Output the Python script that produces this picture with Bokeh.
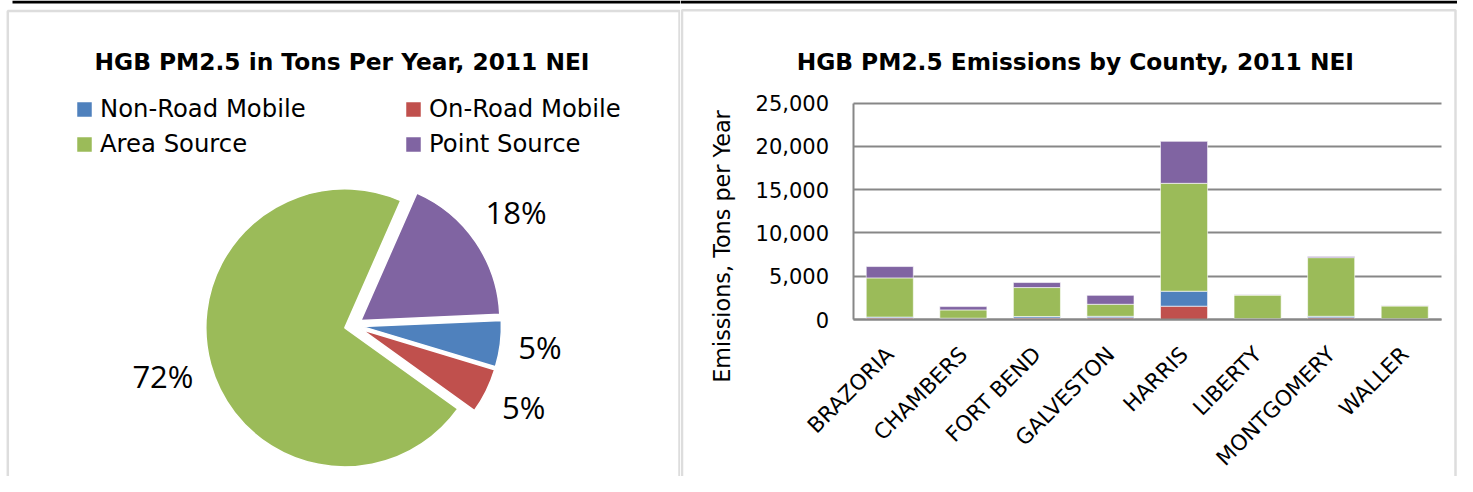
import math
from bokeh.plotting import figure
from bokeh.models import (ColumnDataSource, Range1d, NumeralTickFormatter, FixedTicker,
                          BoxAnnotation, LinearAxis)
from bokeh.layouts import row
from bokeh.embed import file_html
from bokeh.resources import INLINE
from bokeh.core.properties import value

# ---------------- data ----------------
counties = ["BRAZORIA", "CHAMBERS", "FORT BEND", "GALVESTON", "HARRIS", "LIBERTY", "MONTGOMERY", "WALLER"]
on_road = [170, 80, 170, 190, 1540, 60, 190, 60]
non_road = [110, 70, 180, 180, 1730, 40, 180, 30]
area = [4530, 960, 3340, 1390, 12470, 2720, 6780, 1480]
point = [1310, 380, 580, 1030, 4850, 30, 120, 20]

source_names = ["Non-Road Mobile", "On-Road Mobile", "Area Source", "Point Source"]
source_colors = ["#4F81BD", "#C0504D", "#9BBB59", "#8064A2"]
y_ticks = [0, 5000, 10000, 15000, 20000, 25000]

pie_title = "HGB PM2.5 in Tons Per Year, 2011 NEI"
bar_title = "HGB PM2.5 Emissions by County, 2011 NEI"
y_label = "Emissions,  Tons per Year"

FONT = "DejaVu Sans"
GRID = "#878787"
BORDER = "#8d8d8d"


def frame_box(fig, left, right, top, bottom, **kw):
    fig.add_layout(BoxAnnotation(left=left, right=right, top=top, bottom=bottom,
                                 left_units="canvas", right_units="canvas",
                                 top_units="canvas", bottom_units="canvas", **kw))


# ---------------- pie ----------------
PW, PH = 680, 476
pie = figure(width=PW, height=PH, x_range=Range1d(0, PW), y_range=Range1d(0, PH),
             output_backend="svg", toolbar_location=None, min_border=0,
             x_axis_location=None, y_axis_location=None)
pie.grid.visible = False
pie.outline_line_color = None
pie.background_fill_color = "white"
pie.border_fill_color = "white"

pie_values = [sum(non_road), sum(on_road), sum(area), sum(point)]
total = float(sum(pie_values))
cx, cy, R, EXPL = 353.0, PH - 325.0, 139.0, 9.0
a = math.radians(2.5)
xs, ys, st, en, lx, ly, pct = [], [], [], [], [], [], []
for v in pie_values:
    sweep = 2 * math.pi * v / total
    a1 = a - sweep
    mid = (a + a1) / 2
    xs.append(cx + EXPL * math.cos(mid))
    ys.append(cy + EXPL * math.sin(mid))
    st.append(a1)
    en.append(a)
    t = f"{round(100 * v / total)}%"
    pct.append(t)
    w = 31 * (0.572 * (len(t) - 1) + 0.823)
    dist = 165 + w / 2 * abs(math.cos(mid)) + 12 * abs(math.sin(mid))
    lx.append(cx + dist * math.cos(mid))
    ly.append(cy + dist * math.sin(mid) + 2)
    a = a1

psrc = ColumnDataSource(dict(x=xs, y=ys, start=st, end=en, color=source_colors,
                             name=source_names, lx=lx, ly=ly, pct=pct))
pie.wedge(x="x", y="y", radius=R, start_angle="start", end_angle="end",
          fill_color="color", line_color="white", line_width=1.5,
          legend_field="name", source=psrc)
pie.text(x="lx", y="ly", text="pct", source=psrc, text_font=value("Open Sans"),
         text_font_size="31px", text_align="center", text_baseline="middle",
         text_color="black")
pie.text(x=[341.5], y=[PH - 61], text=[pie_title], text_font=value(FONT),
         text_font_style="bold", text_font_size="23.3px", text_align="center",
         text_baseline="alphabetic", text_color="black")

lg = pie.legend[0]
lg.orientation = "horizontal"
lg.ncols = 2
lg.glyph_width = 20
lg.glyph_height = 20
lg.label_standoff = 6
lg.label_width = 303
lg.label_height = 35
lg.spacing = 0
lg.padding = 0
lg.margin = 0
lg.border_line_color = None
lg.background_fill_alpha = 0
lg.label_text_font = FONT
lg.label_text_font_size = "24.3px"
lg.label_text_baseline = "alphabetic"
lg.label_text_color = "black"
lg.location = (74, 315)

frame_box(pie, 12, PW, 0, 3, fill_color="black", fill_alpha=1, line_color=None)
frame_box(pie, 7.3, 679, 10.5, 700, fill_color=None, fill_alpha=0,
          line_color=BORDER, line_width=2.5)

# ---------------- bars ----------------
BW, BH = 777, 476
PLOT_L, PLOT_R, PLOT_T, PLOT_B = 172.5, 761.0, 102.7, 319.0   # plot area in canvas px
n = len(counties)
county_pos = list(range(n))
y_max = y_ticks[-1]
ppx = (PLOT_R - PLOT_L) / n
ppy = (PLOT_B - PLOT_T) / y_max


def fx(px):
    return (px - PLOT_L) / ppx - 0.5


def fy(py):
    return (PLOT_B - py) / ppy


bar = figure(width=BW, height=BH, x_range=Range1d(fx(0), fx(BW)), y_range=Range1d(fy(BH), fy(0)),
             output_backend="svg", toolbar_location=None, min_border=0,
             x_axis_location=None, y_axis_location=None)
bar.grid.visible = False
bar.outline_line_color = None
bar.background_fill_color = "white"
bar.border_fill_color = "white"

bsrc = ColumnDataSource(dict(pos=county_pos, county=counties, on_road=on_road,
                             non_road=non_road, area=area, point=point))
bar.vbar_stack(["on_road", "non_road", "area", "point"], x="pos", width=0.64,
               fill_color=[source_colors[1], source_colors[0], source_colors[2], source_colors[3]],
               line_color="white", line_width=1, line_alpha=0.6, source=bsrc)

yax = LinearAxis(fixed_location=-0.5, bounds=(0, y_max), ticker=FixedTicker(ticks=y_ticks),
                 formatter=NumeralTickFormatter(format="0,0"))
yax.level = "underlay"
yax.major_tick_in = int(round(PLOT_R - PLOT_L))
yax.major_tick_out = 0
yax.major_tick_line_color = GRID
yax.major_tick_line_width = 2
yax.minor_tick_line_color = None
yax.minor_tick_in = 0
yax.minor_tick_out = 0
yax.major_label_standoff = 24
yax.major_label_text_font = FONT
yax.major_label_text_font_size = "21px"
yax.major_label_text_color = "black"
yax.axis_line_color = GRID
yax.axis_line_width = 2
bar.add_layout(yax, "left")

xax = LinearAxis(fixed_location=0, bounds=(-0.5, n - 0.5), ticker=FixedTicker(ticks=county_pos),
                 major_label_overrides={i: c for i, c in zip(county_pos, counties)})
xax.major_label_orientation = math.pi / 4
xax.major_tick_line_color = None
xax.minor_tick_line_color = None
xax.major_tick_out = 0
xax.major_tick_in = 0
xax.minor_tick_in = 0
xax.minor_tick_out = 0
xax.major_label_standoff = 31
xax.major_label_text_font = FONT
xax.major_label_text_font_size = "21.5px"
xax.major_label_text_color = "black"
xax.axis_line_color = GRID
xax.axis_line_width = 2
bar.add_layout(xax, "below")

bar.text(x=[fx(1074.8 - 680)], y=[fy(61)], text=[bar_title], text_font=value(FONT),
         text_font_style="bold", text_font_size="23.3px", text_align="center",
         text_baseline="alphabetic", text_color="black")
bar.text(x=[fx(721 - 680)], y=[fy(242.5)], text=[y_label], text_font=value(FONT),
         text_font_size="22.3px", text_align="center", text_baseline="middle",
         angle=math.pi / 2, text_color="black")

frame_box(bar, 0, BW, 0, 3, fill_color="black", fill_alpha=1, line_color=None)
frame_box(bar, 1.5, 775, 9.7, 700, fill_color=None, fill_alpha=0,
          line_color=BORDER, line_width=2.5)

layout = row(pie, bar)
open("out.html", "w").write(file_html(layout, INLINE))
